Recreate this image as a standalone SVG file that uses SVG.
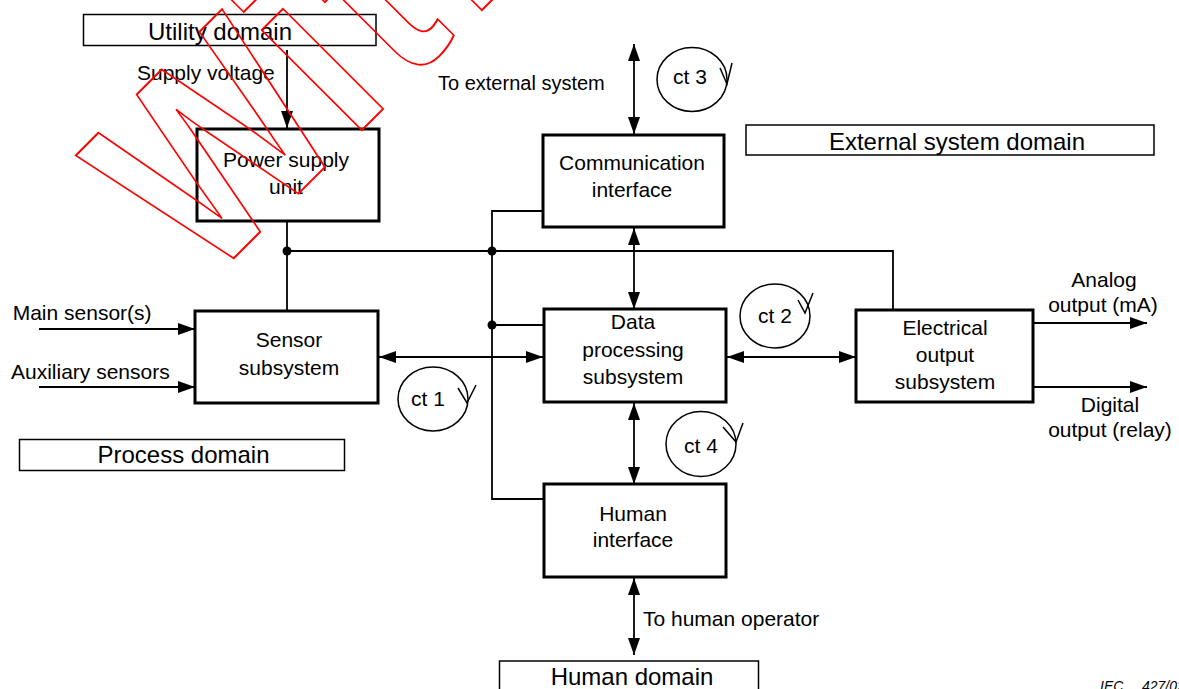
<svg xmlns="http://www.w3.org/2000/svg" width="1179" height="689" viewBox="0 0 1179 689">
<style>
.box{fill:none;stroke:#000;stroke-width:3}
.dom{fill:none;stroke:#000;stroke-width:1.5}
.ln{fill:none;stroke:#000;stroke-width:1.8}
.cy{fill:none;stroke:#000;stroke-width:1.5}
.t{font-family:"Liberation Sans",Arial,sans-serif;font-size:21px;fill:#000}
.c{text-anchor:middle}
.td{font-size:24px}
.wm{font-family:"Liberation Sans",Arial,sans-serif;font-weight:bold;font-size:268px;fill:none;stroke:#ff0000;stroke-width:2}
</style>
<defs>
<marker id="ah" markerUnits="userSpaceOnUse" markerWidth="17" markerHeight="12" refX="17" refY="6" orient="auto-start-reverse">
<path d="M0,0 L17,6 L0,12 Z" fill="#000"/>
</marker>
</defs>
<rect x="0" y="0" width="1179" height="689" fill="#fff"/>

<g id="domain-utility">
<rect class="dom" x="83.5" y="14.5" width="292.5" height="31"/>
<text class="t td c" x="220" y="40">Utility domain</text>
</g>
<g id="domain-external">
<rect class="dom" x="746" y="125" width="408" height="30"/>
<text class="t td c" x="957" y="150">External system domain</text>
</g>
<g id="domain-process">
<rect class="dom" x="19.5" y="439.5" width="325" height="31"/>
<text class="t td c" x="183.5" y="463">Process domain</text>
</g>
<g id="domain-human">
<rect class="dom" x="499.5" y="661" width="259" height="32"/>
<text class="t td c" x="632" y="685">Human domain</text>
</g>

<g id="psu">
<rect class="box" x="197" y="129" width="182" height="92"/>
<text class="t c" x="286" y="167">Power supply</text>
<text class="t c" x="286" y="194">unit</text>
</g>
<g id="comm">
<rect class="box" x="543" y="135" width="181" height="92"/>
<text class="t c" x="632" y="170">Communication</text>
<text class="t c" x="632" y="197">interface</text>
</g>
<g id="sensor">
<rect class="box" x="195" y="311" width="183" height="92"/>
<text class="t c" x="289" y="347">Sensor</text>
<text class="t c" x="289" y="375">subsystem</text>
</g>
<g id="data">
<rect class="box" x="544" y="309" width="182" height="93"/>
<text class="t c" x="633" y="329">Data</text>
<text class="t c" x="633" y="357">processing</text>
<text class="t c" x="633" y="384">subsystem</text>
</g>
<g id="elec">
<rect class="box" x="856" y="310" width="177" height="92"/>
<text class="t c" x="945" y="335">Electrical</text>
<text class="t c" x="945" y="361.5">output</text>
<text class="t c" x="945" y="389">subsystem</text>
</g>
<g id="human">
<rect class="box" x="544" y="484" width="182" height="93"/>
<text class="t c" x="633" y="521">Human</text>
<text class="t c" x="633" y="547">interface</text>
</g>

<g id="connectors">
<line class="ln" x1="287" y1="50" x2="287" y2="128" marker-end="url(#ah)"/>
<line class="ln" x1="287" y1="221" x2="287" y2="311"/>
<polyline class="ln" points="287,251 893,251 893,310"/>
<polyline class="ln" points="543,211 492,211 492,499 544,499"/>
<line class="ln" x1="492" y1="325" x2="544" y2="325"/>
<circle cx="287" cy="251" r="4.5" fill="#000"/>
<circle cx="492" cy="251" r="4.5" fill="#000"/>
<circle cx="492" cy="325" r="4.5" fill="#000"/>
<line class="ln" x1="379" y1="357" x2="543" y2="357" marker-start="url(#ah)" marker-end="url(#ah)"/>
<line class="ln" x1="727" y1="357" x2="856" y2="357" marker-start="url(#ah)" marker-end="url(#ah)"/>
<line class="ln" x1="634" y1="44" x2="634" y2="134" marker-start="url(#ah)" marker-end="url(#ah)"/>
<line class="ln" x1="634" y1="228" x2="634" y2="309" marker-start="url(#ah)" marker-end="url(#ah)"/>
<line class="ln" x1="634" y1="403" x2="634" y2="484" marker-start="url(#ah)" marker-end="url(#ah)"/>
<line class="ln" x1="634" y1="578" x2="634" y2="655" marker-start="url(#ah)" marker-end="url(#ah)"/>
<line class="ln" x1="39" y1="329" x2="195" y2="329" marker-end="url(#ah)"/>
<line class="ln" x1="39" y1="387" x2="195" y2="387" marker-end="url(#ah)"/>
<line class="ln" x1="1033" y1="323" x2="1147" y2="323" marker-end="url(#ah)"/>
<line class="ln" x1="1033" y1="387" x2="1147" y2="387" marker-end="url(#ah)"/>
</g>

<g id="labels">
<text class="t" x="137" y="80">Supply voltage</text>
<text class="t" x="438" y="90" style="font-size:20px">To external system</text>
<text class="t" x="12.7" y="320">Main sensor(s)</text>
<text class="t" x="11" y="379">Auxiliary sensors</text>
<text class="t c" x="1104" y="287">Analog</text>
<text class="t c" x="1103" y="312">output (mA)</text>
<text class="t c" x="1110" y="412">Digital</text>
<text class="t c" x="1110" y="437">output (relay)</text>
<text class="t" x="643" y="626">To human operator</text>
</g>

<g id="ct3">
<ellipse class="cy" cx="692" cy="79.5" rx="35" ry="32"/>
<polyline class="cy" points="720,68 727,84 732,63"/>
<text class="t c" x="690" y="84">ct 3</text>
</g>
<g id="ct2">
<ellipse class="cy" cx="775" cy="316" rx="35" ry="32"/>
<polyline class="cy" points="798,300 805,313 813,293"/>
<text class="t c" x="775" y="323">ct 2</text>
</g>
<g id="ct1">
<ellipse class="cy" cx="433" cy="399" rx="35" ry="32"/>
<polyline class="cy" points="458,388 467,403 476,385"/>
<text class="t c" x="428" y="406">ct 1</text>
</g>
<g id="ct4">
<ellipse class="cy" cx="701" cy="444" rx="35" ry="32.5"/>
<polyline class="cy" points="723,427 736,442 743,423"/>
<text class="t c" x="701" y="453">ct 4</text>
</g>

<g id="footer">
<text x="1100" y="691" style="font-family:'Liberation Sans',Arial,sans-serif;font-size:14px;font-style:italic">IEC</text>
<text x="1142" y="691" style="font-family:'Liberation Sans',Arial,sans-serif;font-size:14px;font-style:italic">427/02</text>
</g>

<g id="watermark">
<text class="wm" transform="translate(206,286) rotate(-45) scale(0.82,1)" x="0 250 344 457" y="0">Withdrawn</text>
</g>
</svg>
